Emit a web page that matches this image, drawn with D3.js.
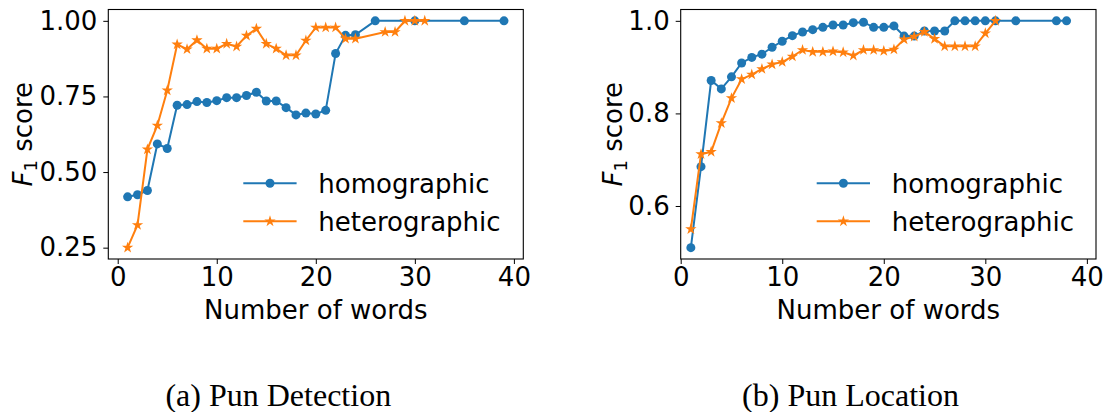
<!DOCTYPE html>
<html>
<head>
<meta charset="utf-8">
<script src="https://cdn.jsdelivr.net/npm/d3@7"></script>
<style>
  body { margin: 0; background: #fff; }
  svg text { font-family: "DejaVu Sans", sans-serif; fill: #000; }
</style>
</head>
<body>
<div id="chart"></div>
<script>
// (a) pun detection
const detHomoWords = [1,2,3,4,5,6,7,8,9,10,11,12,13,14,15,16,17,18,19,20,21,22,23,24,26,30,35,39];
const detHomo = [0.418,0.425,0.439,0.593,0.578,0.721,0.723,0.733,0.730,0.736,0.746,0.746,0.753,0.764,
  0.735,0.735,0.713,0.689,0.695,0.692,0.704,0.892,0.952,0.954,1.0,1.0,1.0,1.0];
const detHeteroWords = [1,2,3,4,5,6,7,8,9,10,11,12,13,14,15,16,17,18,19,20,21,22,23,24,27,28,29,30,31];
const detHetero = [0.25,0.325,0.575,0.654,0.770,0.922,0.906,0.936,0.908,0.908,0.924,0.915,0.951,0.974,
  0.924,0.908,0.886,0.886,0.935,0.978,0.978,0.978,0.941,0.941,0.963,0.963,1.0,1.0,1.0];

// (b) pun location
const locHomoWords = [1,2,3,4,5,6,7,8,9,10,11,12,13,14,15,16,17,18,19,20,21,22,23,24,25,26,27,28,29,30,31,33,37,38];
const locHomo = [0.510,0.685,0.871,0.853,0.879,0.909,0.921,0.928,0.943,0.956,0.968,0.976,0.981,0.986,
  0.991,0.991,0.996,0.997,0.986,0.986,0.989,0.967,0.967,0.978,0.978,0.978,1.0,1.0,1.0,1.0,1.0,1.0,1.0,1.0];
const locHeteroWords = [1,2,3,4,5,6,7,8,9,10,11,12,13,14,15,16,17,18,19,20,21,22,23,24,25,26,27,28,29,30,31];
const locHetero = [0.550,0.712,0.717,0.779,0.833,0.874,0.884,0.896,0.906,0.911,0.923,0.937,0.933,0.933,
  0.934,0.932,0.925,0.937,0.937,0.935,0.938,0.960,0.966,0.976,0.961,0.945,0.945,0.945,0.945,0.973,1.0];

const xTicks = [0, 10, 20, 30, 40];
const detYTicks = [0.25, 0.50, 0.75, 1.00];
const locYTicks = [0.6, 0.8, 1.0];
const seriesNames = ['homographic', 'heterographic'];
const captions = ['(a) Pun Detection', '(b) Pun Location'];

const blue = '#1f77b4', orange = '#ff7f0e';
const width = 1106, height = 412;
const plotTop = 9.5, plotBottom = 259;

const svg = d3.select('#chart')
  .append('svg')
  .attr('width', width)
  .attr('height', height);

const star = d3.symbol().type(d3.symbolStar).size(40);

function panel(opt) {
  const x = d3.scaleLinear().domain(opt.xDomain).range([opt.left, opt.right]);
  const y = d3.scaleLinear().domain(opt.yDomain).range([plotBottom, plotTop]);
  const g = svg.append('g');

  const line = d3.line().x(d => x(d[0])).y(d => y(d[1]));
  const homo = d3.zip(opt.homoWords, opt.homo);
  const hetero = d3.zip(opt.heteroWords, opt.hetero);

  g.append('path').datum(homo)
    .attr('fill', 'none').attr('stroke', blue).attr('stroke-width', 2)
    .attr('d', line);
  g.selectAll('circle.pt').data(homo).enter()
    .append('circle').attr('class', 'pt')
    .attr('cx', d => x(d[0])).attr('cy', d => y(d[1]))
    .attr('r', 4.5).attr('fill', blue);

  g.append('path').datum(hetero)
    .attr('fill', 'none').attr('stroke', orange).attr('stroke-width', 2)
    .attr('d', line);
  g.selectAll('path.st').data(hetero).enter()
    .append('path').attr('class', 'st')
    .attr('transform', d => `translate(${x(d[0])},${y(d[1])})`)
    .attr('d', star).attr('fill', orange);

  // axes
  g.append('g')
    .attr('transform', `translate(0,${plotBottom})`)
    .call(d3.axisBottom(x).tickValues(xTicks).tickSize(5).tickPadding(4))
    .call(a => a.select('.domain').remove())
    .call(a => a.selectAll('text').attr('font-size', 26).attr('font-family', 'DejaVu Sans').attr('fill', '#000'));
  g.append('g')
    .attr('transform', `translate(${opt.left},0)`)
    .call(d3.axisLeft(y).tickValues(opt.yTicks).tickFormat(d3.format(opt.yFmt)).tickSize(5).tickPadding(6))
    .call(a => a.select('.domain').remove())
    .call(a => a.selectAll('text').attr('font-size', 26).attr('font-family', 'DejaVu Sans').attr('fill', '#000'));

  g.append('rect')
    .attr('x', opt.left).attr('y', plotTop)
    .attr('width', opt.right - opt.left).attr('height', plotBottom - plotTop)
    .attr('fill', 'none').attr('stroke', '#000').attr('stroke-width', 1.1);

  // axis labels
  g.append('text')
    .attr('x', (opt.left + opt.right) / 2).attr('y', 319)
    .attr('text-anchor', 'middle').attr('font-size', 26)
    .text('Number of words');

  const yl = g.append('text')
    .attr('transform', `translate(${opt.yLabelX},${(plotTop + plotBottom) / 2}) rotate(-90)`)
    .attr('text-anchor', 'middle').attr('font-size', 26);
  yl.append('tspan').attr('font-style', 'italic').text('F');
  yl.append('tspan').attr('font-size', 18).attr('dy', 5).text('1');
  yl.append('tspan').attr('dy', -5).text(' score');

  // legend
  const lg = g.append('g');
  [[blue, 183.3], [orange, 221.3]].forEach(([c, ly], i) => {
    lg.append('line')
      .attr('x1', opt.legX).attr('x2', opt.legX + 53.3)
      .attr('y1', ly).attr('y2', ly)
      .attr('stroke', c).attr('stroke-width', 2);
    if (i === 0) {
      lg.append('circle').attr('cx', opt.legX + 26.7).attr('cy', ly).attr('r', 4.5).attr('fill', c);
    } else {
      lg.append('path').attr('transform', `translate(${opt.legX + 26.7},${ly})`).attr('d', star).attr('fill', c);
    }
    lg.append('text')
      .attr('x', opt.legX + 75).attr('y', ly + 10)
      .attr('font-size', 26)
      .text(seriesNames[i]);
  });

  svg.append('text')
    .attr('x', opt.capX).attr('y', 405.5)
    .attr('text-anchor', 'middle')
    .style('font-family', '"Liberation Serif", serif')
    .attr('font-size', 32)
    .text(opt.caption);
}

panel({
  left: 108.3, right: 523.3, xDomain: [-0.95, 40.95], yDomain: [0.2125, 1.0375],
  homoWords: detHomoWords, homo: detHomo, heteroWords: detHeteroWords, hetero: detHetero,
  yTicks: detYTicks, yFmt: '.2f', yLabelX: 31.7, legX: 243.3, capX: 278.3, caption: captions[0]
});
panel({
  left: 680.7, right: 1096, xDomain: [0, 40.9], yDomain: [0.4855, 1.0245],
  homoWords: locHomoWords, homo: locHomo, heteroWords: locHeteroWords, hetero: locHetero,
  yTicks: locYTicks, yFmt: '.1f', yLabelX: 621.7, legX: 816.7, capX: 850.5, caption: captions[1]
});
</script>
</body>
</html>
